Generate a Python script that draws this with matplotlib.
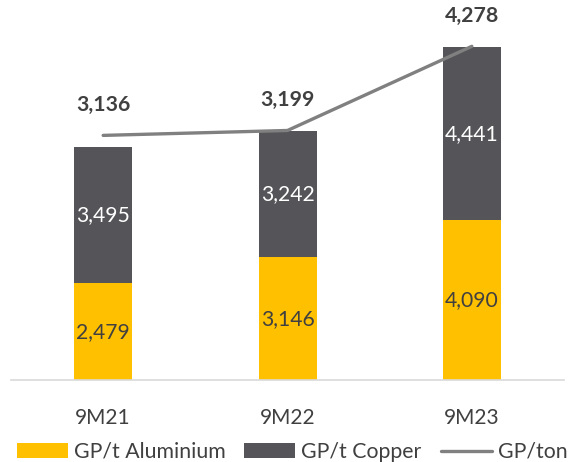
import matplotlib
matplotlib.use("Agg")
import matplotlib.pyplot as plt
import numpy as np

plt.rcParams['font.family'] = ['Lato', 'DejaVu Sans']

periods = ["9M21", "9M22", "9M23"]
gp_aluminium = [2479, 3146, 4090]
gp_copper = [3495, 3242, 4441]
gp_ton = [3136, 3199, 4278]

C_AL = "#FFC000"
C_CU = "#545459"
C_LINE = "#808080"
C_TEXT = "#404040"

W, H = 571, 462
fig = plt.figure(figsize=(W / 100, H / 100), dpi=100)

# plot area in pixel terms
left_px, right_px, base_px, top_px = 11, 564, 380, 10
ax = fig.add_axes([left_px / W, (H - base_px) / H,
                   (right_px - left_px) / W, (base_px - top_px) / H])

x = np.arange(len(periods))
ax.set_xlim(-0.5, len(periods) - 0.5)
px_per_cat = (right_px - left_px) / len(periods)
ymax = (base_px - top_px) / 0.039
ax.set_ylim(0, ymax)

bw = 58 / px_per_cat
b1 = ax.bar(x, gp_aluminium, bw, color=C_AL, label="GP/t Aluminium", zorder=2)
b2 = ax.bar(x, gp_copper, bw, bottom=gp_aluminium, color=C_CU,
            label="GP/t Copper", zorder=2)

for xi, a, c in zip(x, gp_aluminium, gp_copper):
    ax.text(xi, a / 2, f"{a:,}", ha="center", va="center",
            fontsize=15.2, color=C_TEXT, zorder=3)
    ax.text(xi, a + c / 2, f"{c:,}", ha="center", va="center",
            fontsize=15.2, color="white", zorder=3)

ax2 = ax.twinx()
ax2.set_ylim(0, ymax / 2)
ln, = ax2.plot(x, gp_ton, color=C_LINE, lw=2.4, solid_capstyle="round",
               label="GP/ton", zorder=4)
for xi, v in zip(x, gp_ton):
    ax2.annotate(f"{v:,}", (xi, v), xytext=(0, 22), textcoords="offset points",
                 ha="center", va="center", fontsize=15.3, fontweight="bold",
                 color=C_TEXT)

for a in (ax, ax2):
    for s in ("top", "right", "left"):
        a.spines[s].set_visible(False)
    a.set_yticks([])
ax2.spines["bottom"].set_visible(False)
ax.spines["bottom"].set_color("#D9D9D9")
ax.spines["bottom"].set_linewidth(1.2)

ax.set_xticks(x)
ax.set_xticklabels(periods, fontsize=15, color=C_TEXT)
ax.tick_params(axis="x", length=0, pad=20)

leg = fig.legend(handles=[b1, b2, ln], loc="center",
                 bbox_to_anchor=(292 / W, 10 / H), ncol=3, frameon=False,
                 fontsize=15.3, handlelength=2.4, handleheight=0.66,
                 handletextpad=0.28, columnspacing=0.9, borderaxespad=0,
                 borderpad=0)
for t in leg.get_texts():
    t.set_color(C_TEXT)

fig.savefig("out.png", dpi=100)
